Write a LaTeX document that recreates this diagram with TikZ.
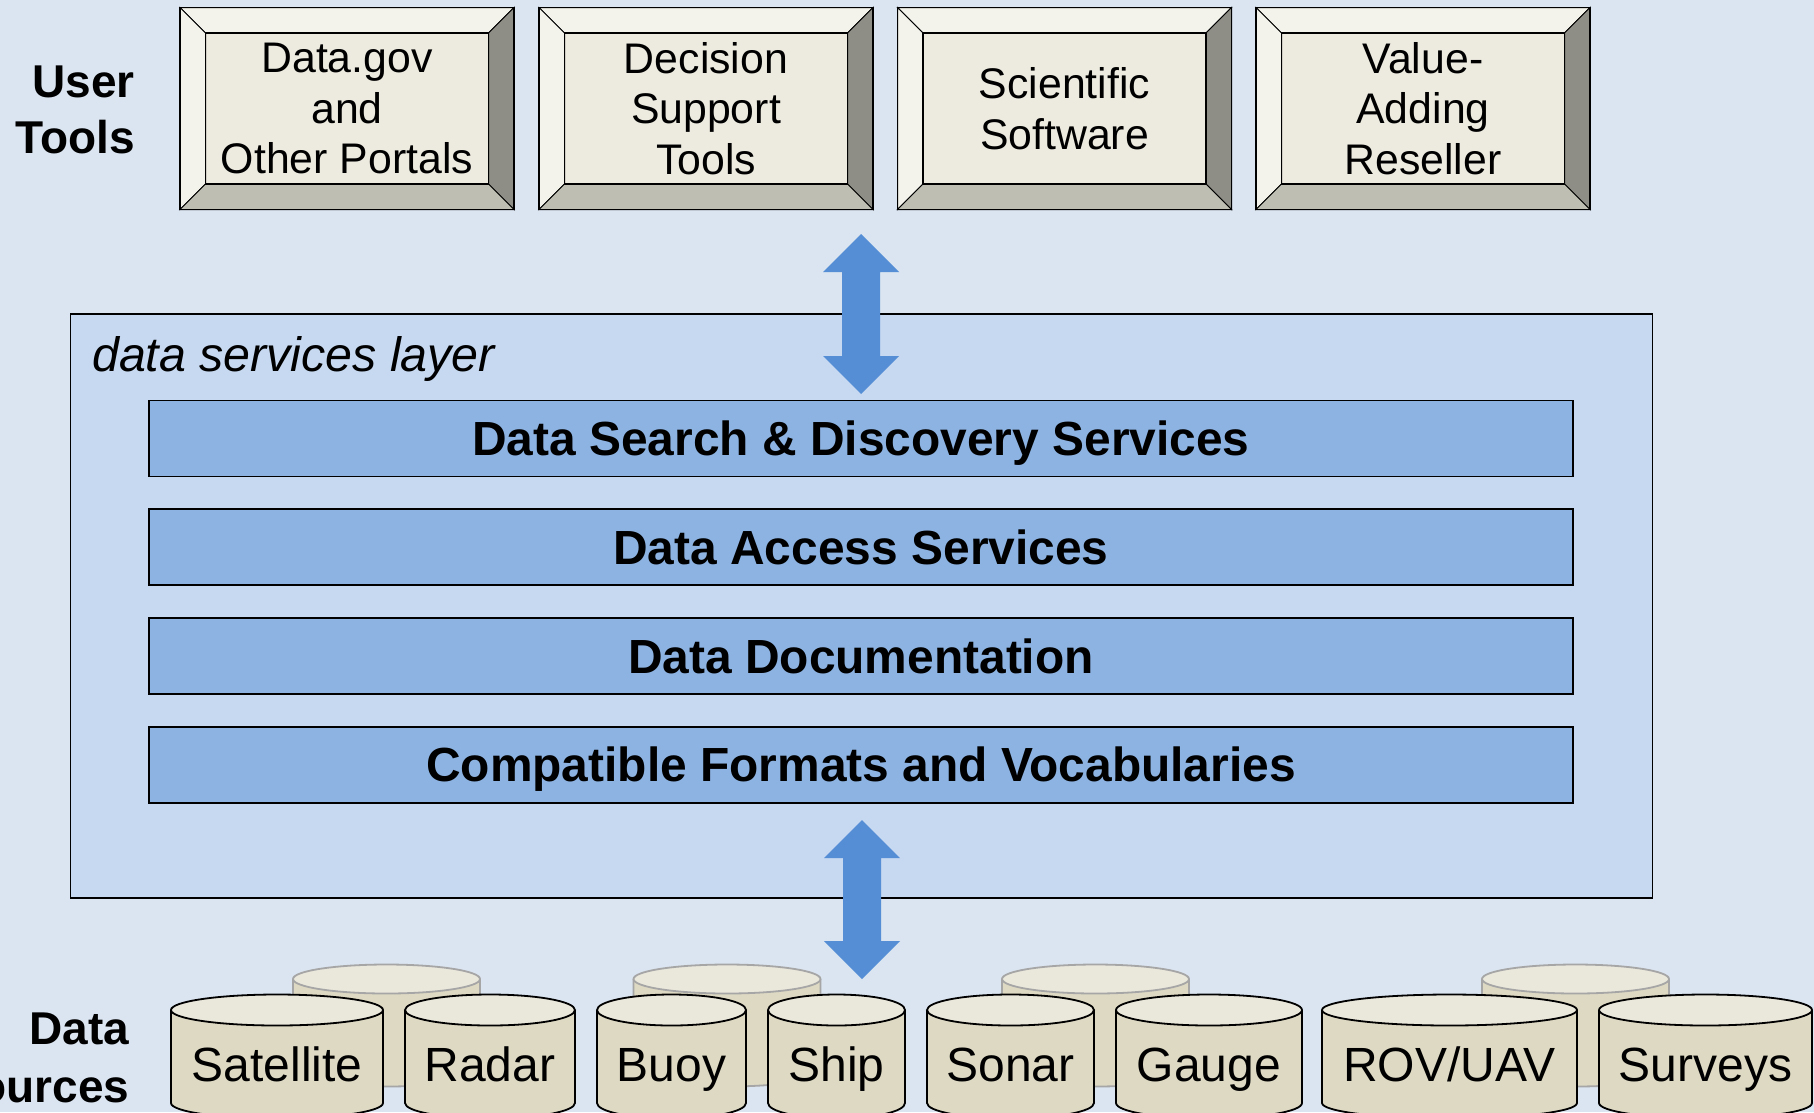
\documentclass[tikz,border=0pt]{standalone}
\usepackage{fontspec}
\setmainfont{Liberation Sans}
\usetikzlibrary{calc}
\definecolor{bgc}{HTML}{DBE5F1}
\definecolor{layerc}{HTML}{C6D9F0}
\definecolor{barc}{HTML}{8DB3E2}
\definecolor{arrowc}{HTML}{558ED5}
\definecolor{bevtop}{HTML}{F3F3EB}
\definecolor{bevin}{HTML}{EDEBE0}
\definecolor{bevright}{HTML}{8F8E86}
\definecolor{bevbot}{HTML}{BFBEB3}
\definecolor{cylbody}{HTML}{DDD9C3}
\definecolor{cyltop}{HTML}{EAE7DB}
\definecolor{cylback}{HTML}{A6A6A6}

\newcommand\bevbox[4]{%
  \node[bevinner] (#1) at (#2,#3) {#4};
  \coordinate (#1a) at ($(#1.north west)+(-25.5,-25.5)$);
  \coordinate (#1b) at ($(#1.north east)+(25.5,-25.5)$);
  \coordinate (#1c) at ($(#1.south east)+(25.5,25.5)$);
  \coordinate (#1d) at ($(#1.south west)+(-25.5,25.5)$);
  \filldraw[fill=bevtop, bevline] (#1a) -- (#1b) -- (#1.north east) -- (#1.north west) -- cycle;
  \filldraw[fill=bevtop, bevline] (#1a) -- (#1.north west) -- (#1.south west) -- (#1d) -- cycle;
  \filldraw[fill=bevright, bevline] (#1b) -- (#1c) -- (#1.south east) -- (#1.north east) -- cycle;
  \filldraw[fill=bevbot, bevline] (#1d) -- (#1.south west) -- (#1.south east) -- (#1c) -- cycle;
  \draw[line width=1.8pt] (#1a) rectangle (#1c);
  \draw[line width=1.5pt] (#1.north west) rectangle (#1.south east);
}
\newcommand\cylshape[7]{% cx, rx, ytop, ybot, ry, line colour, top colour
  \fill[cylbody] (#1-#2,#3) rectangle (#1+#2,#4);
  \fill[cylbody] (#1,#4) ellipse[x radius=#2, y radius=#5];
  \draw[line width=1.8pt, draw=#6] (#1-#2,#3) -- (#1-#2,#4) arc[start angle=180, end angle=0, x radius=#2, y radius=#5] -- (#1+#2,#3);
  \filldraw[fill=#7, draw=#6, line width=1.8pt] (#1,#3) ellipse[x radius=#2, y radius=#5];
}
\newcommand\frontcyl[4]{% name, cx, rx, text
  \cylshape{#2}{#3}{1010}{1103}{15.5}{black}{cyltop}
  \node[cyltext] (#1) at (#2,1081) {#4};
}
\newcommand\backcyl[2]{% cx, rx
  \cylshape{#1}{#2}{979}{1072}{14.5}{cylback}{cyltop}
}

\begin{document}
\begin{tikzpicture}[x=1pt,y=-1pt,
  bevinner/.style={draw, line width=1.5pt, fill=bevin, minimum width=283pt, minimum height=151pt,
    inner sep=0pt, outer sep=0pt, align=center, font=\fontsize{42.8}{50.5}\selectfont},
  bevline/.style={draw=black, line width=1pt},
  layerbox/.style={draw, line width=1.8pt, fill=layerc, minimum width=1582pt, minimum height=584pt,
    inner sep=0pt, outer sep=0pt},
  barbox/.style={draw, line width=1.8pt, fill=barc, minimum width=1424pt, minimum height=76pt,
    inner sep=0pt, outer sep=0pt, text height=34pt, text depth=0pt,
    font=\fontsize{47.9}{57}\selectfont\bfseries},
  cyltext/.style={anchor=base, inner sep=0pt, font=\fontsize{48}{56}\selectfont},
  sidelabel/.style={anchor=base east, inner sep=0pt, font=\fontsize{46}{56}\selectfont\bfseries},
  arrowfill/.style={fill=arrowc}
]
\useasboundingbox (0,0) rectangle (1814,1112);
\fill[bgc] (0,0) rectangle (1814,1112);

% side labels
\node[sidelabel] (lu) at (135,97) {User};
\node[sidelabel] (lt) at (135,153) {Tools};
\node[sidelabel] (ld) at (129.5,1044) {Data};
\node[sidelabel] (ls) at (129.5,1102) {Sources};

% user tools
\bevbox{t1}{347}{108.5}{Data.gov\\and\\Other Portals}
\bevbox{t2}{706}{108.5}{Decision\\Support\\Tools}
\bevbox{t3}{1064.5}{108.5}{Scientific\\Software}
\bevbox{t4}{1423}{108.5}{Value-\\Adding\\Reseller}

% data services layer
\node[layerbox] (dsl) at (861.5,606) {};
\node[anchor=base west, inner sep=0pt, font=\fontsize{48.3}{57}\selectfont\itshape] (dsllabel) at (92,371) {data services layer};
\node[barbox] (b1) at (861,438.5) {Data Search \& Discovery Services};
\node[barbox] (b2) at (861,547.25) {Data Access Services};
\node[barbox] (b3) at (861,656) {Data Documentation};
\node[barbox] (b4) at (861,764.75) {Compatible Formats and Vocabularies};

% double arrows
\coordinate (uat) at (861,234);
\coordinate (uab) at (861,394);
\fill[arrowfill] (uat) -- ++(38,38) -- ++(-19,0) -- ++(0,84) -- ++(19,0) -- (uab)
  -- ++(-38,-38) -- ++(19,0) -- ++(0,-84) -- ++(-19,0) -- cycle;
\coordinate (lat) at (862,820);
\coordinate (lab) at (862,979);
\fill[arrowfill] (lat) -- ++(38,38) -- ++(-19,0) -- ++(0,83) -- ++(19,0) -- (lab)
  -- ++(-38,-38) -- ++(19,0) -- ++(0,-83) -- ++(-19,0) -- cycle;

% data sources
\backcyl{386.5}{93.5}
\backcyl{727}{93.5}
\backcyl{1095.5}{93.5}
\backcyl{1575.5}{93.5}
\frontcyl{c1}{277}{106}{Satellite}
\frontcyl{c2}{490}{85}{Radar}
\frontcyl{c3}{671.5}{74.5}{Buoy}
\frontcyl{c4}{836.5}{68.5}{Ship}
\frontcyl{c5}{1010.5}{83.5}{Sonar}
\frontcyl{c6}{1209}{93}{Gauge}
\frontcyl{c7}{1449.5}{127.5}{ROV/UAV}
\frontcyl{c8}{1705.5}{106.5}{Surveys}
\end{tikzpicture}
\end{document}
